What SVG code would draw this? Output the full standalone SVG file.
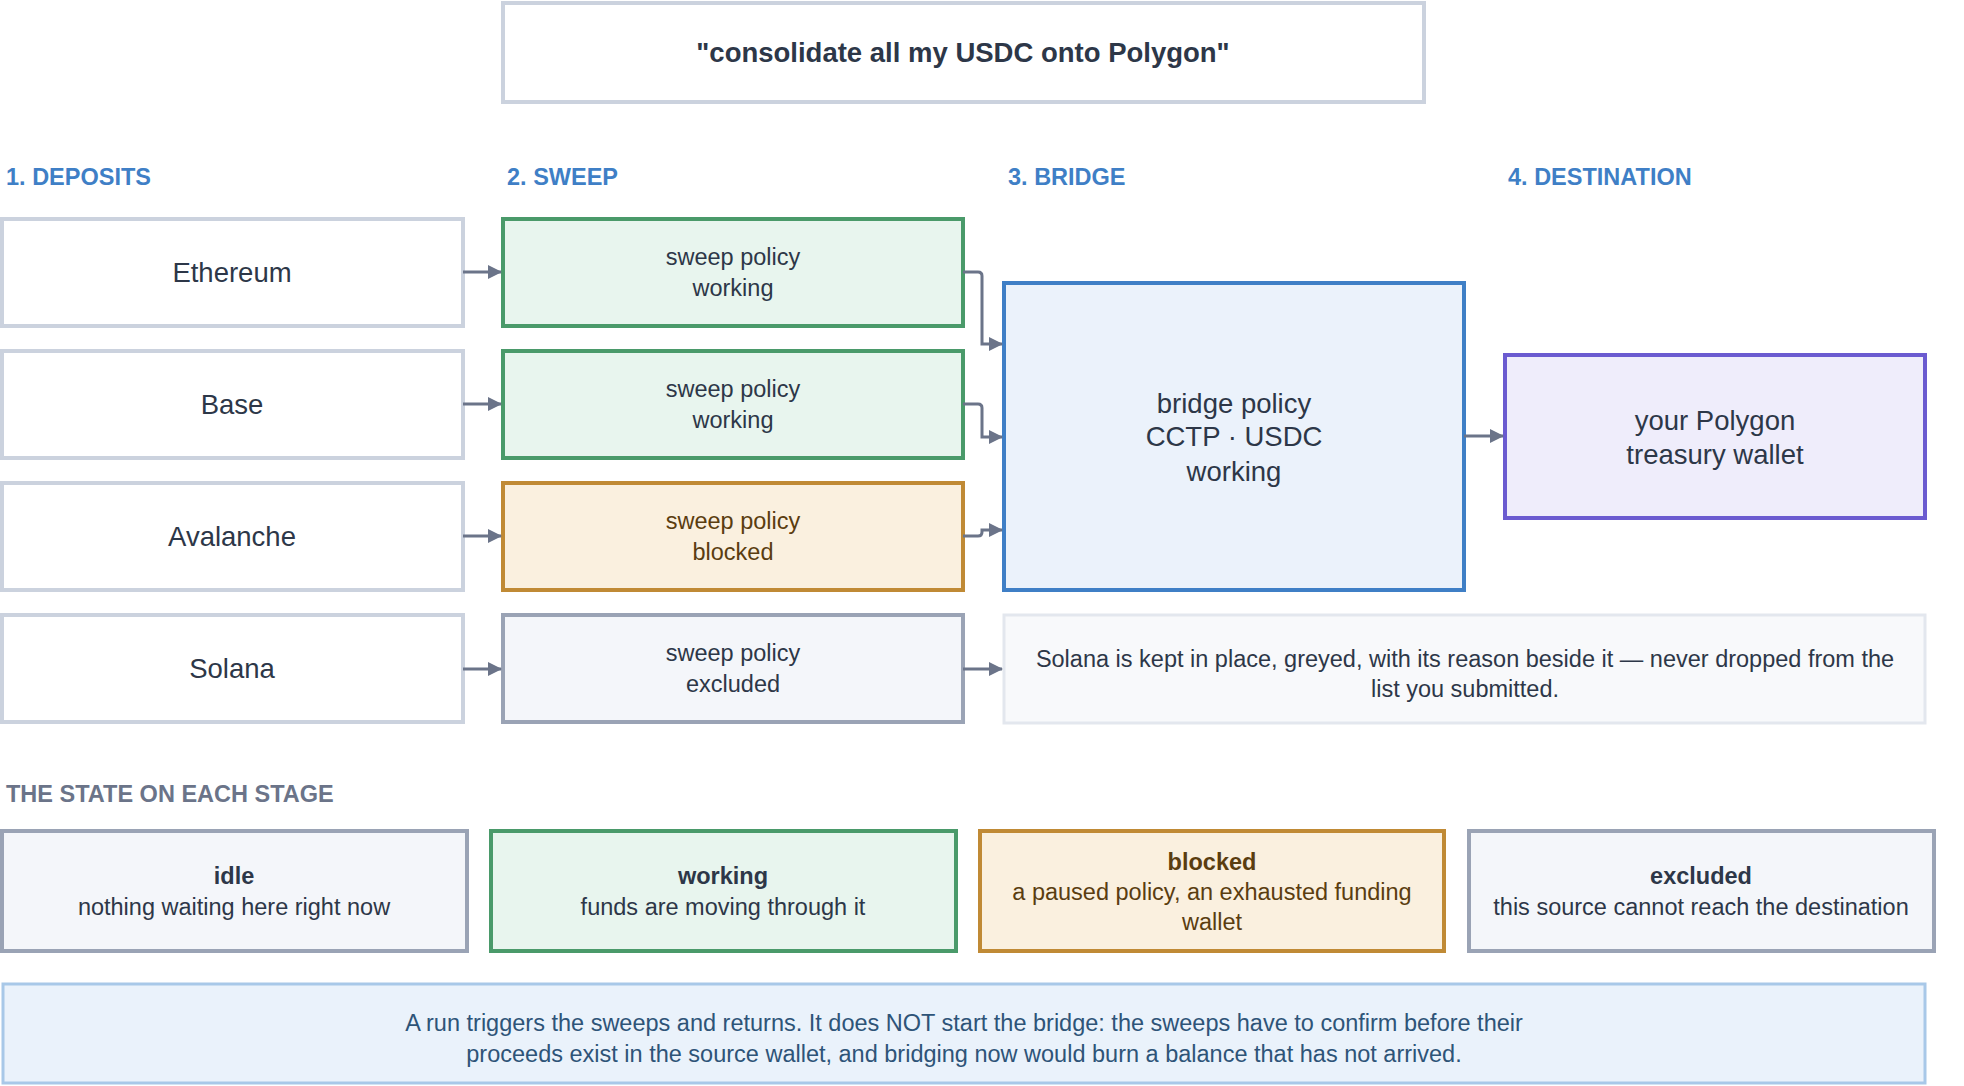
<svg xmlns="http://www.w3.org/2000/svg" width="1964" height="1086" viewBox="0 0 1964 1086">
<defs>
<marker id="ah" markerWidth="14" markerHeight="14" refX="13" refY="7" orient="auto" markerUnits="userSpaceOnUse"><path d="M0,0 L14,7 L0,14 z" fill="#6b7489"/></marker>
<style>
text{font-family:"Liberation Sans",Arial,sans-serif;fill:#2d3748;text-anchor:middle}
.hd{font-size:23.5px;font-weight:bold;fill:#3f7fc6;text-anchor:start}
.dep{fill:#fff;stroke:#cbd2de;stroke-width:4}
.wk{fill:#e8f5ee;stroke:#4a9a6a;stroke-width:4}
.bl{fill:#faf0df;stroke:#c08a35;stroke-width:4}
.ex{fill:#f4f6fa;stroke:#9aa3b5;stroke-width:4}
.t26{font-size:27.5px}
.t22{font-size:23.5px}
.b{font-weight:bold}
.br{fill:#5a3d10}
.c{fill:none;stroke:#6b7489;stroke-width:3;marker-end:url(#ah)}
</style>
</defs>
<rect width="1964" height="1086" fill="#fff"/>
<g id="title"><rect x="503" y="3" width="921" height="99" fill="#fff" stroke="#cbd2de" stroke-width="4"/><text x="963" y="62" class="t26 b">"consolidate all my USDC onto Polygon"</text></g>
<text x="6" y="185" class="hd">1. DEPOSITS</text>
<text x="507" y="185" class="hd">2. SWEEP</text>
<text x="1008" y="185" class="hd">3. BRIDGE</text>
<text x="1508" y="185" class="hd">4. DESTINATION</text>
<g id="eth"><rect x="2" y="219" width="461" height="107" class="dep"/><text x="232" y="282" class="t26">Ethereum</text></g>
<g id="base"><rect x="2" y="351" width="461" height="107" class="dep"/><text x="232" y="414" class="t26">Base</text></g>
<g id="avax"><rect x="2" y="483" width="461" height="107" class="dep"/><text x="232" y="546" class="t26">Avalanche</text></g>
<g id="sol"><rect x="2" y="615" width="461" height="107" class="dep"/><text x="232" y="678" class="t26">Solana</text></g>
<g id="sw1"><rect x="503" y="219" width="460" height="107" class="wk"/><text x="733" y="265" class="t22">sweep policy</text><text x="733" y="296" class="t22">working</text></g>
<g id="sw2"><rect x="503" y="351" width="460" height="107" class="wk"/><text x="733" y="397" class="t22">sweep policy</text><text x="733" y="428" class="t22">working</text></g>
<g id="sw3"><rect x="503" y="483" width="460" height="107" class="bl"/><text x="733" y="529" class="t22 br">sweep policy</text><text x="733" y="560" class="t22 br">blocked</text></g>
<g id="sw4"><rect x="503" y="615" width="460" height="107" class="ex"/><text x="733" y="661" class="t22">sweep policy</text><text x="733" y="692" class="t22">excluded</text></g>
<g id="bridge"><rect x="1004" y="283" width="460" height="307" fill="#ebf2fb" stroke="#3f7fc6" stroke-width="4"/><text x="1234" y="413" class="t26">bridge policy</text><text x="1234" y="446" class="t26">CCTP · USDC</text><text x="1234" y="481" class="t26">working</text></g>
<g id="dest"><rect x="1505" y="355" width="420" height="163" fill="#efedfb" stroke="#6b5bd0" stroke-width="4"/><text x="1715" y="430" class="t26">your Polygon</text><text x="1715" y="464" class="t26">treasury wallet</text></g>
<g id="note"><rect x="1004" y="615" width="921" height="108" fill="#f8f9fb" stroke="#e3e7ee" stroke-width="3"/><text x="1465" y="667" class="t22">Solana is kept in place, greyed, with its reason beside it — never dropped from the</text><text x="1465" y="697" class="t22">list you submitted.</text></g>
<g id="connectors">
<path class="c" d="M463,272 H501"/>
<path class="c" d="M463,404 H501"/>
<path class="c" d="M463,536 H501"/>
<path class="c" d="M463,669 H501"/>
<path class="c" d="M963,272 H978 Q982,272 982,276 V344 H1002"/>
<path class="c" d="M963,404 H978 Q982,404 982,408 V437 H1002"/>
<path class="c" d="M963,536 H978 Q982,536 982,532 V530 H1002"/>
<path class="c" d="M963,669 H1002"/>
<path class="c" d="M1464,436 H1503"/>
</g>
<text x="6" y="802" class="t22 b" style="fill:#6b7489;text-anchor:start">THE STATE ON EACH STAGE</text>
<g id="idle"><rect x="2" y="831" width="465" height="120" class="ex"/><text x="234" y="884" class="t22 b">idle</text><text x="234" y="915" class="t22">nothing waiting here right now</text></g>
<g id="working"><rect x="491" y="831" width="465" height="120" class="wk"/><text x="723" y="884" class="t22 b">working</text><text x="723" y="915" class="t22">funds are moving through it</text></g>
<g id="blocked"><rect x="980" y="831" width="464" height="120" class="bl"/><text x="1212" y="870" class="t22 b br">blocked</text><text x="1212" y="900" class="t22 br">a paused policy, an exhausted funding</text><text x="1212" y="930" class="t22 br">wallet</text></g>
<g id="excluded"><rect x="1469" y="831" width="465" height="120" class="ex"/><text x="1701" y="884" class="t22 b">excluded</text><text x="1701" y="915" class="t22">this source cannot reach the destination</text></g>
<g id="footer"><rect x="3" y="984" width="1922" height="99" fill="#eaf2fb" stroke="#a8c8e8" stroke-width="3"/><text x="964" y="1031" class="t22" style="fill:#2e5478">A run triggers the sweeps and returns. It does NOT start the bridge: the sweeps have to confirm before their</text><text x="964" y="1062" class="t22" style="fill:#2e5478">proceeds exist in the source wallet, and bridging now would burn a balance that has not arrived.</text></g>
</svg>
